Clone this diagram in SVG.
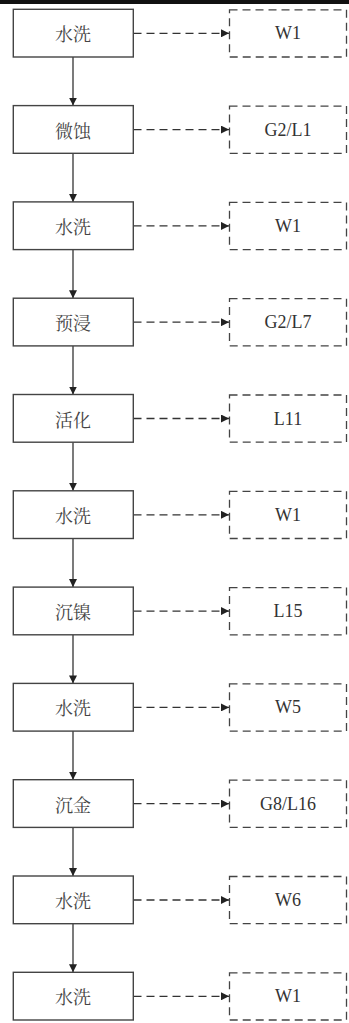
<svg xmlns="http://www.w3.org/2000/svg" width="349" height="1023" viewBox="0 0 349 1023">
<defs>
<style>
.p{fill:#fff;stroke:#444;stroke-width:1.4}
.o{fill:#fff;stroke:#444;stroke-width:1.3;stroke-dasharray:8 5}
.t{font-family:"Noto Serif CJK SC","Liberation Serif","Noto Sans CJK SC",serif;font-size:18px;fill:#444;text-anchor:middle;dominant-baseline:central}
.e{font-family:"Liberation Serif",serif;font-size:18px;fill:#333;text-anchor:middle;dominant-baseline:central}
.v{stroke:#333;stroke-width:1.3;fill:none}
.h{stroke:#333;stroke-width:1.3;fill:none;stroke-dasharray:8 5}
</style>
<marker id="a" viewBox="0 0 10 10" refX="10" refY="5" markerWidth="8" markerHeight="8" markerUnits="userSpaceOnUse" orient="auto"><path d="M0,0L10,5L0,10z" fill="#222"/></marker>
</defs>
<rect x="0" y="0" width="349" height="4" fill="#111"/>
<g id="connectors">
<path class="v" d="M73,57V105.6" marker-end="url(#a)"/>
<path class="v" d="M73,153.3V201.9" marker-end="url(#a)"/>
<path class="v" d="M73,249.6V298.2" marker-end="url(#a)"/>
<path class="v" d="M73,345.9V394.5" marker-end="url(#a)"/>
<path class="v" d="M73,442.2V490.8" marker-end="url(#a)"/>
<path class="v" d="M73,538.5V587.1" marker-end="url(#a)"/>
<path class="v" d="M73,634.8V683.4" marker-end="url(#a)"/>
<path class="v" d="M73,731.1V779.7" marker-end="url(#a)"/>
<path class="v" d="M73,827.4V876" marker-end="url(#a)"/>
<path class="v" d="M73,923.7V972.3" marker-end="url(#a)"/>
<path class="h" d="M133.5,33.3H229" marker-end="url(#a)"/>
<path class="h" d="M133.5,129.6H229" marker-end="url(#a)"/>
<path class="h" d="M133.5,225.9H229" marker-end="url(#a)"/>
<path class="h" d="M133.5,322.2H229" marker-end="url(#a)"/>
<path class="h" d="M133.5,418.5H229" marker-end="url(#a)"/>
<path class="h" d="M133.5,514.8H229" marker-end="url(#a)"/>
<path class="h" d="M133.5,611.1H229" marker-end="url(#a)"/>
<path class="h" d="M133.5,707.4H229" marker-end="url(#a)"/>
<path class="h" d="M133.5,803.7H229" marker-end="url(#a)"/>
<path class="h" d="M133.5,900H229" marker-end="url(#a)"/>
<path class="h" d="M133.5,996.3H229" marker-end="url(#a)"/>
</g>
<g id="n1"><rect class="p" x="13.3" y="9.3" width="120" height="47.7"/><text class="t" x="73" y="33.3">水洗</text></g>
<g id="n2"><rect class="p" x="13.3" y="105.6" width="120" height="47.7"/><text class="t" x="73" y="129.6">微蚀</text></g>
<g id="n3"><rect class="p" x="13.3" y="201.9" width="120" height="47.7"/><text class="t" x="73" y="225.9">水洗</text></g>
<g id="n4"><rect class="p" x="13.3" y="298.2" width="120" height="47.7"/><text class="t" x="73" y="322.2">预浸</text></g>
<g id="n5"><rect class="p" x="13.3" y="394.5" width="120" height="47.7"/><text class="t" x="73" y="418.5">活化</text></g>
<g id="n6"><rect class="p" x="13.3" y="490.8" width="120" height="47.7"/><text class="t" x="73" y="514.8">水洗</text></g>
<g id="n7"><rect class="p" x="13.3" y="587.1" width="120" height="47.7"/><text class="t" x="73" y="611.1">沉镍</text></g>
<g id="n8"><rect class="p" x="13.3" y="683.4" width="120" height="47.7"/><text class="t" x="73" y="707.4">水洗</text></g>
<g id="n9"><rect class="p" x="13.3" y="779.7" width="120" height="47.7"/><text class="t" x="73" y="803.7">沉金</text></g>
<g id="n10"><rect class="p" x="13.3" y="876" width="120" height="47.7"/><text class="t" x="73" y="900">水洗</text></g>
<g id="n11"><rect class="p" x="13.3" y="972.3" width="120" height="47.7"/><text class="t" x="73" y="996.3">水洗</text></g>
<g id="o1"><rect class="o" x="229.5" y="9.8" width="117" height="47.2"/><text class="e" x="288" y="33.3">W1</text></g>
<g id="o2"><rect class="o" x="229.5" y="106.1" width="117" height="47.2"/><text class="e" x="288" y="129.6">G2/L1</text></g>
<g id="o3"><rect class="o" x="229.5" y="202.4" width="117" height="47.2"/><text class="e" x="288" y="225.9">W1</text></g>
<g id="o4"><rect class="o" x="229.5" y="298.7" width="117" height="47.2"/><text class="e" x="288" y="322.2">G2/L7</text></g>
<g id="o5"><rect class="o" x="229.5" y="395" width="117" height="47.2"/><text class="e" x="288" y="418.5">L11</text></g>
<g id="o6"><rect class="o" x="229.5" y="491.3" width="117" height="47.2"/><text class="e" x="288" y="514.8">W1</text></g>
<g id="o7"><rect class="o" x="229.5" y="587.6" width="117" height="47.2"/><text class="e" x="288" y="611.1">L15</text></g>
<g id="o8"><rect class="o" x="229.5" y="683.9" width="117" height="47.2"/><text class="e" x="288" y="707.4">W5</text></g>
<g id="o9"><rect class="o" x="229.5" y="780.2" width="117" height="47.2"/><text class="e" x="288" y="803.7">G8/L16</text></g>
<g id="o10"><rect class="o" x="229.5" y="876.5" width="117" height="47.2"/><text class="e" x="288" y="900">W6</text></g>
<g id="o11"><rect class="o" x="229.5" y="972.8" width="117" height="47.2"/><text class="e" x="288" y="996.3">W1</text></g>
</svg>
